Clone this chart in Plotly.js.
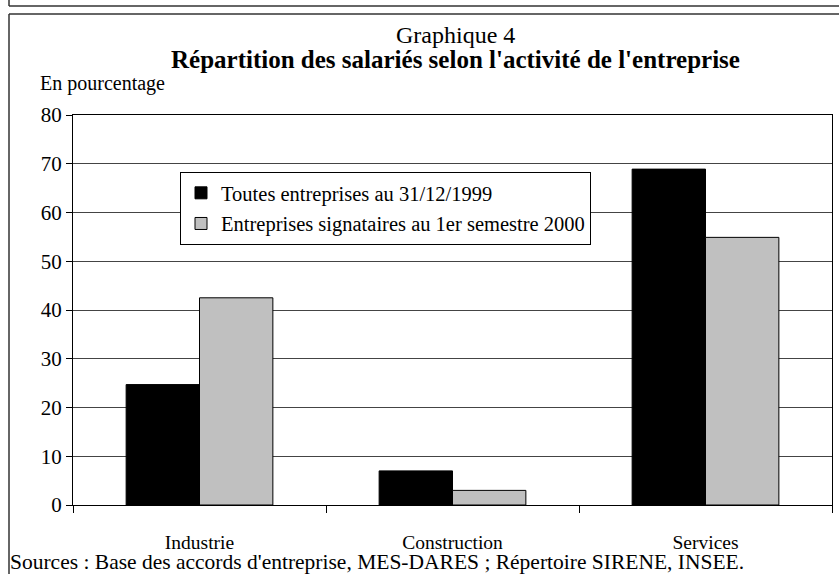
<!DOCTYPE html>
<html>
<head>
<meta charset="utf-8">
<script src="https://cdn.plot.ly/plotly-3.0.1.min.js"></script>
<style>
  body { margin: 0; background: #fff; }
  #myDiv { width: 839px; height: 574px; }
</style>
</head>
<body>
<div id="myDiv"></div>
<script>
var categories = ['Industrie', 'Construction', 'Services'];
var toutes_values = [24.7, 7.0, 68.9];
var signataires_values = [42.5, 3.0, 54.9];
var series_names = ['Toutes entreprises au 31/12/1999', 'Entreprises signataires au 1er semestre 2000'];
var y_ticks = [0, 10, 20, 30, 40, 50, 60, 70, 80];

var serif = 'Liberation Serif, Times New Roman, serif';

var trace1 = {
    x: categories,
    y: toutes_values,
    type: 'bar',
    name: series_names[0],
    legendgroup: 'a',
    marker: { color: '#000000', line: { color: '#000000', width: 1 } },
    hoverinfo: 'skip'
};

var trace2 = {
    x: categories,
    y: signataires_values,
    type: 'bar',
    name: series_names[1],
    legendgroup: 'b',
    marker: { color: '#c0c0c0', line: { color: '#000000', width: 1 } },
    hoverinfo: 'skip'
};

// plot area runs from x=73 to 832 px and y=115 to 505 px
function px_x(p) { return (p - 73) / 759; }
function px_y(p) { return (505 - p) / 390; }

var frame = { color: '#333333', width: 1.5 };

var layout = {
    width: 839,
    height: 574,
    margin: { l: 73, r: 7, t: 115, b: 69 },
    paper_bgcolor: '#ffffff',
    plot_bgcolor: '#ffffff',
    font: { family: serif, size: 21, color: '#000000' },
    barmode: 'group',
    bargap: 0.42,
    bargroupgap: 0,
    showlegend: true,
    legend: {
        x: px_x(180),
        xanchor: 'left',
        y: px_y(172),
        yanchor: 'top',
        bgcolor: '#ffffff',
        bordercolor: '#000000',
        borderwidth: 1,
        traceorder: 'grouped',
        tracegroupgap: 1,
        itemwidth: 30,
        font: { family: serif, size: 20.5, color: '#000000' }
    },
    xaxis: {
        type: 'category',
        showline: true,
        linecolor: '#000000',
        linewidth: 1,
        mirror: true,
        ticks: 'outside',
        tickson: 'boundaries',
        ticklen: 7,
        tickcolor: '#000000',
        ticklabelstandoff: 20,
        showgrid: false,
        zeroline: false,
        tickfont: { family: serif, size: 19.5, color: '#000000' }
    },
    yaxis: {
        range: [0, 80],
        tickvals: y_ticks,
        ticktext: y_ticks.map(String),
        showline: true,
        linecolor: '#000000',
        linewidth: 1,
        mirror: true,
        ticks: 'outside',
        ticklen: 6,
        tickcolor: '#000000',
        showgrid: true,
        gridcolor: '#444444',
        gridwidth: 1,
        zeroline: false,
        tickfont: { family: serif, size: 21, color: '#000000' }
    },
    annotations: [
        {
            text: 'Graphique 4',
            xref: 'paper', yref: 'paper',
            x: px_x(455), y: px_y(35),
            xanchor: 'center', yanchor: 'middle',
            showarrow: false,
            font: { family: serif, size: 24, color: '#000000' }
        },
        {
            text: '<b>Répartition des salariés selon l\'activité de l\'entreprise</b>',
            xref: 'paper', yref: 'paper',
            x: px_x(455), y: px_y(59),
            xanchor: 'center', yanchor: 'middle',
            showarrow: false,
            font: { family: serif, size: 25, color: '#000000' }
        },
        {
            text: 'En pourcentage',
            xref: 'paper', yref: 'paper',
            x: px_x(38), y: px_y(83),
            xanchor: 'left', yanchor: 'middle',
            showarrow: false,
            font: { family: serif, size: 20, color: '#000000' }
        },
        {
            text: 'Sources : Base des accords d\'entreprise, MES-DARES ; Répertoire SIRENE, INSEE.',
            xref: 'paper', yref: 'paper',
            x: px_x(8), y: px_y(562),
            xanchor: 'left', yanchor: 'middle',
            showarrow: false,
            font: { family: serif, size: 21.5, color: '#000000' }
        }
    ],
    shapes: [
        // outer frame: left and top edges only, the right side runs off the picture
        { type: 'line', layer: 'below', xref: 'paper', yref: 'paper',
          x0: px_x(9), x1: px_x(9), y0: px_y(600), y1: px_y(14), line: frame },
        { type: 'line', layer: 'below', xref: 'paper', yref: 'paper',
          x0: px_x(9), x1: px_x(900), y0: px_y(14), y1: px_y(14), line: frame },
        // box above, only its bottom edge shows
        { type: 'line', layer: 'below', xref: 'paper', yref: 'paper',
          x0: px_x(9), x1: px_x(9), y0: px_y(6), y1: px_y(-20), line: frame },
        { type: 'line', layer: 'below', xref: 'paper', yref: 'paper',
          x0: px_x(9), x1: px_x(900), y0: px_y(6), y1: px_y(6), line: frame }
    ]
};

Plotly.newPlot('myDiv', [trace1, trace2], layout, { displayModeBar: false, staticPlot: true });
</script>
</body>
</html>
